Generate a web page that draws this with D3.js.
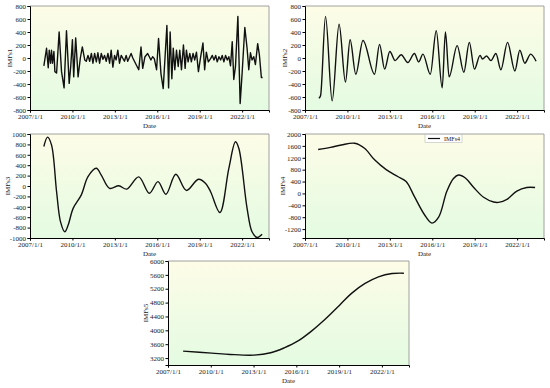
<!DOCTYPE html>
<html>
<head>
<meta charset="utf-8">
<script src="https://cdn.jsdelivr.net/npm/d3@7"></script>
<style>
  body { margin: 0; background: #fff; }
  text { font-family: "Liberation Serif", "Times New Roman", serif; }
</style>
</head>
<body>
<svg width="550" height="388"></svg>
<script>
// x values are decimal years
const yearTicks = [2007, 2010, 2013, 2016, 2019, 2022];

const imf1Dates = [2007.98, 2008.17, 2008.29, 2008.36, 2008.45, 2008.52, 2008.59, 2008.69, 2008.76, 2008.88,
  2009.06, 2009.23, 2009.41, 2009.58, 2009.77, 2009.88, 2010.0, 2010.09, 2010.23, 2010.40,
  2010.56, 2010.70, 2010.87, 2010.98, 2011.10, 2011.22, 2011.34, 2011.45, 2011.57, 2011.69,
  2011.80, 2011.92, 2012.04, 2012.16, 2012.27, 2012.39, 2012.51, 2012.63, 2012.74, 2012.86,
  2012.98, 2013.09, 2013.21, 2013.33, 2013.45, 2013.68, 2013.80, 2013.91, 2014.15, 2014.27,
  2014.50, 2014.69, 2014.85, 2014.97, 2015.13, 2015.32, 2015.55, 2015.67, 2015.79, 2015.95,
  2016.09, 2016.26, 2016.42, 2016.68, 2016.80, 2016.91, 2017.03, 2017.13, 2017.24, 2017.36,
  2017.48, 2017.59, 2017.71, 2017.85, 2017.97, 2018.06, 2018.18, 2018.30, 2018.41, 2018.53,
  2018.65, 2018.77, 2018.91, 2019.07, 2019.23, 2019.35, 2019.47, 2019.61, 2019.77, 2019.89,
  2020.01, 2020.13, 2020.24, 2020.36, 2020.48, 2020.59, 2020.71, 2020.83, 2020.95, 2021.06,
  2021.18, 2021.30, 2021.41, 2021.53, 2021.70, 2021.86, 2022.0, 2022.19, 2022.35, 2022.47,
  2022.59, 2022.70, 2022.82, 2022.94, 2023.10, 2023.22, 2023.36, 2023.45];
const imf1Values = [-120, 150, -150, 120, -80, 120, -80, 100, -210, -230,
  400, -210, -460, 420, -390, -130, 280, -290, 310, -290,
  0, 170, -30, -50, 40, -50, 70, -80, 70, -60,
  80, -80, 70, -20, 40, -50, 70, -80, 120, -140,
  40, -30, 120, -80, 40, -50, 40, -50, 70, 0,
  -100, -180, 170, -160, 20, 70, -30, 20, -10, -180,
  300, -240, -470, 500, -460, 400, -320, 150, -180, 120,
  -130, 120, -180, 200, -160, 120, -60, 70, -60, 70,
  -30, 90, -210, 20, 230, -180, 90, -60, -10, 40,
  -30, 40, -60, 20, -30, 40, -60, 40, -30, 20,
  -120, 250, -330, -130, 640, -700, -230, 470, 150, -180,
  80, -30, 20, -100, 220, 50, -300, -300];

const imf2Dates = [2007.98, 2008.10, 2008.45, 2008.92, 2009.41, 2009.86, 2010.19, 2010.59, 2011.10, 2011.92,
  2012.27, 2012.63, 2013.00, 2013.37, 2013.80, 2014.27, 2014.74, 2015.04, 2015.34, 2015.86,
  2016.28, 2016.70, 2016.93, 2017.19, 2017.76, 2018.23, 2018.62, 2018.98, 2019.38, 2019.55,
  2019.84, 2020.15, 2020.50, 2020.85, 2021.32, 2021.84, 2022.19, 2022.54, 2022.96, 2023.34];
const imf2Values = [-620, -580, 640, -660, 520, -370, 280, -250, 270, -250,
  210, -170, 100, -40, 50, -70, 70, -60, 60, -250,
  420, -460, 400, -290, 190, -220, 240, -170, 40, -15,
  30, -40, 70, -180, 240, -200, 120, -80, 60, -50];

const imf3Dates = [2007.98, 2008.24, 2008.52, 2008.88, 2009.16, 2009.46, 2009.70, 2010.05, 2010.63, 2011.10,
  2011.69, 2012.04, 2012.63, 2013.28, 2013.84, 2014.69, 2015.44, 2016.05, 2016.61, 2017.31,
  2018.06, 2018.91, 2019.42, 2019.77, 2020.43, 2021.06, 2021.53, 2021.77, 2022.35, 2022.70,
  2023.06, 2023.41];
const imf3Values = [760, 940, 790, -110, -690, -880, -750, -430, -170, 180,
  340, 210, -45, 5, -60, 175, -140, 85, -160, 225,
  -85, 130, 50, -110, -510, 340, 850, 720, -430, -880,
  -990, -930];

const imf4Dates = [2007.93, 2008.80, 2009.57, 2010.51, 2011.21, 2011.92, 2012.74, 2013.56, 2014.15, 2014.73,
  2015.44, 2015.98, 2016.45, 2017.03, 2017.50, 2017.85, 2018.34, 2018.93, 2019.63, 2020.34,
  2020.69, 2021.28, 2021.98, 2022.68, 2023.27];
const imf4Values = [1480, 1550, 1630, 1690, 1520, 1130, 800, 570, 400, -100,
  -710, -1000, -800, 70, 500, 620, 520, 200, -130, -290,
  -300, -200, 80, 200, 200];

const imf5Dates = [2008.06, 2010.07, 2011.37, 2013.02, 2014.20, 2015.15, 2016.09, 2017.04, 2017.98, 2019.05,
  2019.87, 2020.82, 2021.76, 2022.71, 2023.54];
const imf5Values = [3400, 3343, 3305, 3286, 3352, 3495, 3686, 3971, 4305, 4733,
  5067, 5352, 5543, 5638, 5648];

const svg = d3.select("svg");

const grad = svg.append("defs").append("linearGradient")
  .attr("id", "bg").attr("x1", 0).attr("y1", 0).attr("x2", 0).attr("y2", 1);
grad.append("stop").attr("offset", "0%").attr("stop-color", "#fdfce7");
grad.append("stop").attr("offset", "100%").attr("stop-color", "#e4fbe2");

function drawPanel(p) {
  const w = p.right - p.left, h = p.bottom - p.top;
  const g = svg.append("g").attr("transform", `translate(${p.left},${p.top})`);
  const x = d3.scaleLinear().domain([2007, 2023.9]).range([0, w]);
  const y = d3.scaleLinear().domain(p.domain).range([h, 0]);

  g.append("rect").attr("width", w).attr("height", h).attr("fill", "url(#bg)");
  g.append("path").attr("d", `M0,0H${w}V${h}`)
    .attr("fill", "none").attr("stroke", "#a0a0a0").attr("stroke-width", 1);

  const pts = p.dates.map((d, i) => [d, p.values[i]]);
  g.append("path").datum(pts)
    .attr("fill", "none").attr("stroke", "#111").attr("stroke-width", 1.4)
    .attr("stroke-linejoin", "round")
    .attr("d", d3.line().x(d => x(d[0])).y(d => y(d[1])).curve(p.curve));

  const xAxis = g.append("g").attr("transform", `translate(0,${h})`)
    .call(d3.axisBottom(x).tickValues(yearTicks).tickFormat(d => d + "/1/1")
      .tickSize(2.5).tickPadding(2));
  const yAxis = g.append("g")
    .call(d3.axisLeft(y).tickValues(p.ticks).tickFormat(d => String(d))
      .tickSize(2.5).tickPadding(1.5));
  [xAxis, yAxis].forEach(a => {
    a.selectAll("text").attr("font-size", 7).attr("fill", "#222")
      .attr("font-family", "Liberation Serif");
    a.select(".domain").attr("stroke", "#000");
  });

  g.append("text").attr("x", w / 2).attr("y", h + 17.5)
    .attr("text-anchor", "middle").attr("font-size", 7).attr("fill", "#222")
    .text("Date");
  g.append("text")
    .attr("transform", `translate(${p.ylabX},${h / 2}) rotate(-90)`)
    .attr("text-anchor", "middle").attr("font-size", 7).attr("fill", "#222")
    .text(p.name);

  if (p.legend) {
    const lg = g.append("g").attr("transform", `translate(${w / 2 + 0.5},0.5)`);
    lg.append("rect").attr("width", 37).attr("height", 8)
      .attr("fill", "#fff").attr("stroke", "#bbb").attr("stroke-width", 0.6);
    lg.append("line").attr("x1", 3).attr("x2", 15).attr("y1", 4).attr("y2", 4)
      .attr("stroke", "#111").attr("stroke-width", 1.2);
    lg.append("text").attr("x", 19).attr("y", 6.3).attr("font-size", 6)
      .attr("fill", "#222").text(p.name);
  }
}

const ticks800 = d3.range(-800, 801, 200);

drawPanel({ left: 30, right: 269, top: 6, bottom: 110, domain: [-800, 800], ticks: ticks800,
  dates: imf1Dates, values: imf1Values, name: "IMFs1", curve: d3.curveLinear, ylabX: -18 });
drawPanel({ left: 305, right: 544, top: 6, bottom: 110, domain: [-800, 800], ticks: ticks800,
  dates: imf2Dates, values: imf2Values, name: "IMFs2", curve: d3.curveMonotoneX, ylabX: -18 });
drawPanel({ left: 30, right: 269, top: 134, bottom: 238, domain: [-1000, 1000],
  ticks: d3.range(-1000, 1001, 200), dates: imf3Dates, values: imf3Values, name: "IMFs3",
  curve: d3.curveCatmullRom.alpha(0.5), ylabX: -20 });
drawPanel({ left: 305, right: 544, top: 134, bottom: 238, domain: [-1500, 2000],
  ticks: d3.range(-1200, 2001, 400), dates: imf4Dates, values: imf4Values, name: "IMFs4",
  curve: d3.curveCatmullRom.alpha(0.5), ylabX: -20, legend: true });
drawPanel({ left: 168, right: 409, top: 261, bottom: 365, domain: [3000, 6000],
  ticks: d3.range(3200, 6001, 400), dates: imf5Dates, values: imf5Values, name: "IMFs5",
  curve: d3.curveCatmullRom.alpha(0.5), ylabX: -20 });
</script>
</body>
</html>
